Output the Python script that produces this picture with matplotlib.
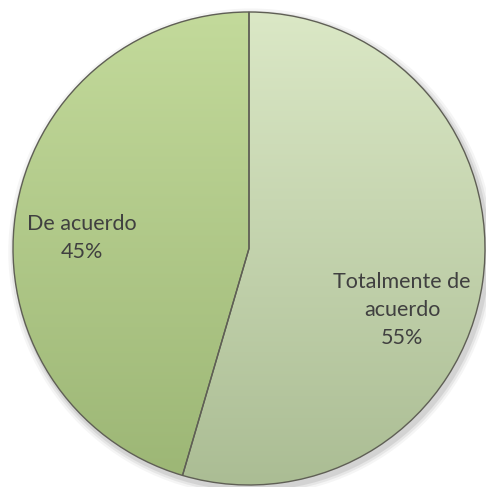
import numpy as np
import matplotlib
matplotlib.use("Agg")
import matplotlib.pyplot as plt
from matplotlib.colors import LinearSegmentedColormap

categories = ["Totalmente de\nacuerdo", "De acuerdo"]
counts = [6, 5]
top_colors = ["#dbe8c6", "#c3da9b"]
bottom_colors = ["#abbd94", "#9cb675"]

fig = plt.figure(figsize=(4.86, 4.87), dpi=100)
ax = fig.add_axes([0, 0, 1, 1])
XL = (-249 / 236, (486 - 249) / 236)
YL = (-(487 - 248.5) / 236.5, 248.5 / 236.5)
ax.set_xlim(*XL)
ax.set_ylim(*YL)
ax.axis("off")

# soft shadow
for r, a in [(1.03, 0.04), (1.02, 0.06), (1.01, 0.08)]:
    ax.add_patch(plt.Circle((0.01, -0.015), r, color="black", alpha=a, lw=0, zorder=0))

wedges, _ = ax.pie(counts, startangle=90, counterclock=False, radius=1,
                   wedgeprops=dict(edgecolor="#5f5f55", linewidth=1.0))
for w, tc, bc in zip(wedges, top_colors, bottom_colors):
    w.set_facecolor("none")
    w.set_zorder(3)
    cmap = LinearSegmentedColormap.from_list("g", [bc, tc])
    grad = np.linspace(0, 1, 256).reshape(-1, 1)
    im = ax.imshow(grad, cmap=cmap, extent=(-1, 1, -1, 1), origin="lower",
                   aspect="auto", zorder=2, interpolation="bilinear")
    im.set_clip_path(w)
ax.set_xlim(*XL)
ax.set_ylim(*YL)

total = sum(counts)
label_text = [f"{c}\n{round(100 * v / total)}%" for c, v in zip(categories, counts)]
label_pos = [(0.649, -0.258), (-0.707, 0.045)]
for t, (x, y) in zip(label_text, label_pos):
    ax.text(x, y, t, ha="center", va="center", fontsize=15.5, color="#404040",
            family="Lato", linespacing=1.5, zorder=5)

fig.savefig("out.png", dpi=100)
